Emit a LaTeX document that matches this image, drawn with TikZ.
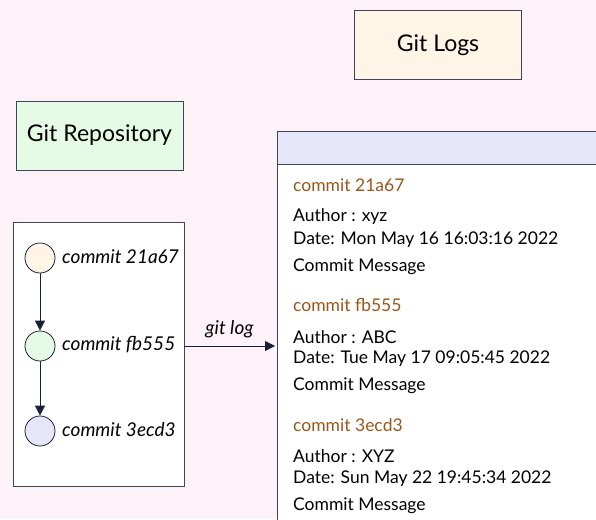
\documentclass[tikz,border=0pt]{standalone}
\usepackage{fontspec}
\setmainfont{Lato}
\usetikzlibrary{arrows.meta}
\definecolor{bgpink}{HTML}{FDF2F8}
\definecolor{edge}{HTML}{1A1F3A}
\definecolor{boxline}{HTML}{3F4458}
\definecolor{cream}{HTML}{FFF5E6}
\definecolor{mint}{HTML}{E6FBE6}
\definecolor{lav}{HTML}{E6E6FA}
\definecolor{brown}{HTML}{9A5718}
\tikzset{
  titlebox/.style={draw=boxline, line width=0.8pt, minimum width=167, minimum height=69, inner sep=0pt, font=\fontsize{23}{27}\selectfont},
  commitdot/.style={circle, draw=edge, line width=0.8pt, minimum size=30, inner sep=0pt},
  commitlbl/.style={anchor=west, inner sep=0pt, font=\itshape\fontsize{19}{22}\selectfont},
  logline/.style={anchor=west, inner sep=0pt, font=\fontsize{17.5}{21}\selectfont, text=black},
  loghead/.style={logline, text=brown},
  flow/.style={draw=edge, line width=0.8pt, -{Triangle[length=10, width=10]}},
}
\begin{document}
\begin{tikzpicture}[x=1pt, y=-1pt]
\useasboundingbox (0,0) rectangle (596,519);
\fill[bgpink] (0,0) rectangle (596,519);
% title boxes
\node[titlebox, fill=cream] (logs) at (438,45) {Git Logs};
\node[titlebox, fill=mint] (repo) at (99.5,135.5) {Git Repository};
% repo container
\draw[boxline, line width=0.8pt, fill=white] (13,222) rectangle (184,486);
\coordinate (repoR) at (184,346);
% commits
\node[commitdot, fill=cream] (c1) at (40,258) {};
\node[commitdot, fill=mint] (c2) at (40,346) {};
\node[commitdot, fill=lav] (c3) at (40,431) {};
\node[commitlbl] (l1) at (62,257) {commit 21a67};
\node[commitlbl] (l2) at (62,345) {commit fb555};
\node[commitlbl] (l3) at (62,430) {commit 3ecd3};
\draw[flow] (c1) -- (c2);
\draw[flow] (c2) -- (c3);
% log panel
\fill[white] (277,131) rectangle (597,525);
\fill[lav] (277,131) rectangle (597,164);
\draw[boxline, line width=0.8pt] (597,131) -- (277,131) -- (277,525);
\draw[boxline, line width=0.6pt] (277,164) -- (597,164);
\coordinate (panelL) at (275,346);
\draw[flow] (repoR) -- node[above=4pt, font=\itshape\fontsize{19}{22}\selectfont, text=black] {git log} (panelL);
% log text
\node[loghead] (h1) at (293,185) {commit 21a67};
\node[logline] (a1) at (293,217) {Author : xyz};
\node[logline] (d1) at (293,240) {Date: Mon May 16 16:03:16 2022};
\node[logline] (m1) at (293,267) {Commit Message};
\node[loghead] (h2) at (293,305) {commit fb555};
\node[logline] (a2) at (293,337) {Author : ABC};
\node[logline] (d2) at (293,359) {Date: Tue May 17 09:05:45 2022};
\node[logline] (m2) at (293,386) {Commit Message};
\node[loghead] (h3) at (293,425) {commit 3ecd3};
\node[logline] (a3) at (293,456) {Author : XYZ};
\node[logline] (d3) at (293,479) {Date: Sun May 22 19:45:34 2022};
\node[logline] (m3) at (293,506) {Commit Message};
\end{tikzpicture}
\end{document}
